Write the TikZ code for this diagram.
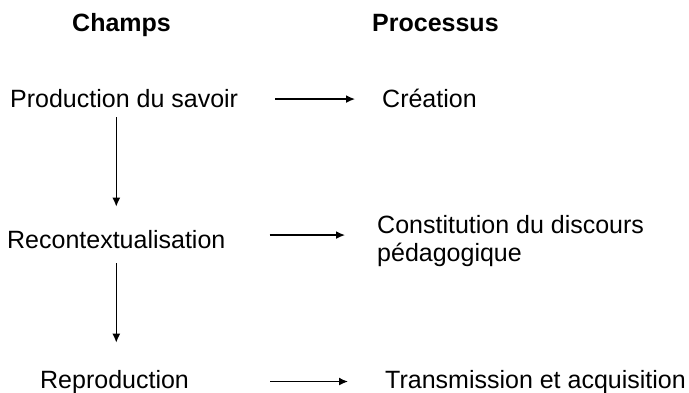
\documentclass[tikz,border=0pt]{standalone}
\usepackage{fontspec}
\setmainfont{Liberation Sans}
\usetikzlibrary{arrows.meta}

\begin{document}
\begin{tikzpicture}[
  x=1pt, y=-1pt,
  header/.style={font=\fontsize{25}{28}\selectfont\bfseries, inner sep=0pt, anchor=base west},
  field/.style={font=\fontsize{25}{28}\selectfont, inner sep=0pt, anchor=base west},
  flow/.style={line width=1.4pt, -{Latex[length=9pt,width=8pt]}}
]
  \useasboundingbox (0,0) rectangle (689,393);

  % Column headers
  \node[header] (champs) at (72,32) {Champs};
  \node[header] (processus) at (372,32) {Processus};

  % Fields (left column)
  \node[field] (production) at (10,108) {Production du savoir};
  \node[field] (recontext) at (7,248) {Recontextualisation};
  \node[field] (reproduction) at (40,388) {Reproduction};

  % Processes (right column)
  \node[field] (creation) at (382,108) {Création};
  \node[field, anchor=north west, align=left] (constitution) at (377,215)
    {Constitution du discours\\pédagogique};
  \node[field] (transmission) at (385,388) {Transmission et acquisition};

  % Down the fields
  \draw[flow, shorten <=9pt, shorten >=23pt] (production.south -| recontext.north) -- (recontext.north);
  \draw[flow, shorten <=15pt, shorten >=27pt] (recontext.south) -- (recontext.south |- reproduction.north);

  % From each field to its process
  \draw[flow, shorten <=37pt, shorten >=27pt] (production.east) -- (production.east -| creation.west);
  \draw[flow, shorten <=44pt, shorten >=32pt] ([yshift=4pt]recontext.east) -- ([yshift=4pt]recontext.east -| constitution.west);
  \draw[flow, shorten <=81pt, shorten >=37pt] (reproduction.east) -- (reproduction.east -| transmission.west);

\end{tikzpicture}
\end{document}
